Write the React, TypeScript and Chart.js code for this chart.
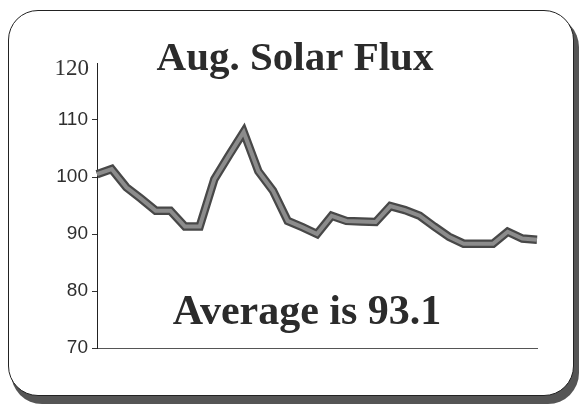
import React, { useEffect, useRef } from "react";
import { Chart, registerables } from "chart.js";

Chart.register(...registerables);

const TITLE = "Aug. Solar Flux";
const AVERAGE_TEXT = "Average is 93.1";

const days = [
  "1", "2", "3", "4", "5", "6", "7", "8", "9", "10",
  "11", "12", "13", "14", "15", "16", "17", "18", "19", "20",
  "21", "22", "23", "24", "25", "26", "27", "28", "29", "30", "31",
];

const solarFlux = [
  100.5, 101.4, 98.2, 96.2, 94.1, 94.1, 91.3, 91.3, 99.6, 103.8,
  107.9, 101.0, 97.6, 92.3, 91.2, 90.0, 93.2, 92.3, 92.2, 92.1,
  94.9, 94.2, 93.2, 91.3, 89.5, 88.3, 88.3, 88.3, 90.4, 89.2, 89.0,
];

const yTicks = [70, 80, 90, 100, 110, 120];
const Y_MAX = 120;

const textPlugin = {
  id: "overlayText",
  afterDraw(chart: any) {
    const ctx = chart.ctx;
    ctx.save();
    ctx.fillStyle = "#2b2b2b";
    ctx.textAlign = "center";
    ctx.textBaseline = "alphabetic";
    ctx.font = 'bold 41px "Liberation Serif", "Times New Roman", serif';
    ctx.fillText(TITLE, 295, 70);
    ctx.font = 'bold 42px "Liberation Serif", "Times New Roman", serif';
    ctx.fillText(AVERAGE_TEXT, 307, 324);
    // top tick label, which in the original is set in a serif face
    const y = chart.scales.y;
    ctx.fillStyle = "#333";
    ctx.textAlign = "right";
    ctx.textBaseline = "middle";
    ctx.font = '23px "Liberation Serif", "Times New Roman", serif';
    ctx.fillText(String(Y_MAX), y.right - 8, y.getPixelForValue(Y_MAX) + 6);
    ctx.restore();
  },
};

export default function App() {
  const canvasRef = useRef<HTMLCanvasElement | null>(null);

  useEffect(() => {
    const canvas = canvasRef.current;
    if (!canvas) return;
    const chart = new Chart(canvas, {
      type: "line",
      data: {
        labels: days,
        datasets: [
          {
            data: solarFlux,
            borderColor: "#8c8c8c",
            borderWidth: 4,
            pointRadius: 0,
            tension: 0,
            fill: false,
            order: 0,
          },
          {
            data: solarFlux,
            borderColor: "#484848",
            borderWidth: 8.5,
            pointRadius: 0,
            tension: 0,
            fill: false,
            order: 1,
          },
        ],
      },
      options: {
        responsive: false,
        animation: false,
        devicePixelRatio: 1,
        layout: { padding: { left: 0, top: 63, right: 43, bottom: 61 } },
        plugins: {
          legend: { display: false },
          title: { display: false },
          tooltip: { enabled: false },
        },
        scales: {
          x: {
            type: "category",
            offset: false,
            grid: { display: false },
            border: { display: true, color: "#555", width: 1 },
            ticks: { display: false },
            afterFit: (s: any) => {
              s.height = 0;
            },
          },
          y: {
            min: 70,
            max: Y_MAX,
            afterBuildTicks: (s: any) => {
              s.ticks = yTicks.map((v) => ({ value: v }));
            },
            grid: {
              display: true,
              drawOnChartArea: false,
              drawTicks: true,
              tickLength: 5,
              color: (c: any) =>
                c.tick && c.tick.value === Y_MAX ? "rgba(0,0,0,0)" : "#333",
            },
            border: { display: true, color: "#222", width: 1 },
            ticks: {
              padding: 4,
              color: "#2e2e2e",
              font: { family: '"Liberation Sans", Arial, sans-serif', size: 19 },
              callback: (v: any) => (Number(v) === Y_MAX ? "" : String(v)),
            },
            afterFit: (s: any) => {
              s.width = 97;
            },
          },
        },
      },
      plugins: [textPlugin],
    });
    return () => chart.destroy();
  }, []);

  return (
    <div
      style={{
        position: "fixed",
        left: 0,
        top: 0,
        width: 580,
        height: 409,
        background: "#fff",
        overflow: "hidden",
      }}
    >
      <div
        style={{
          position: "absolute",
          left: 8,
          top: 10,
          width: 564,
          height: 384,
          border: "1.5px solid #222",
          borderRadius: 30,
          boxShadow: "4px 7px 0 1px #555",
          background: "#fff",
        }}
      />
      <canvas
        ref={canvasRef}
        width={580}
        height={409}
        style={{ position: "absolute", left: 0, top: 0 }}
      />
    </div>
  );
}
